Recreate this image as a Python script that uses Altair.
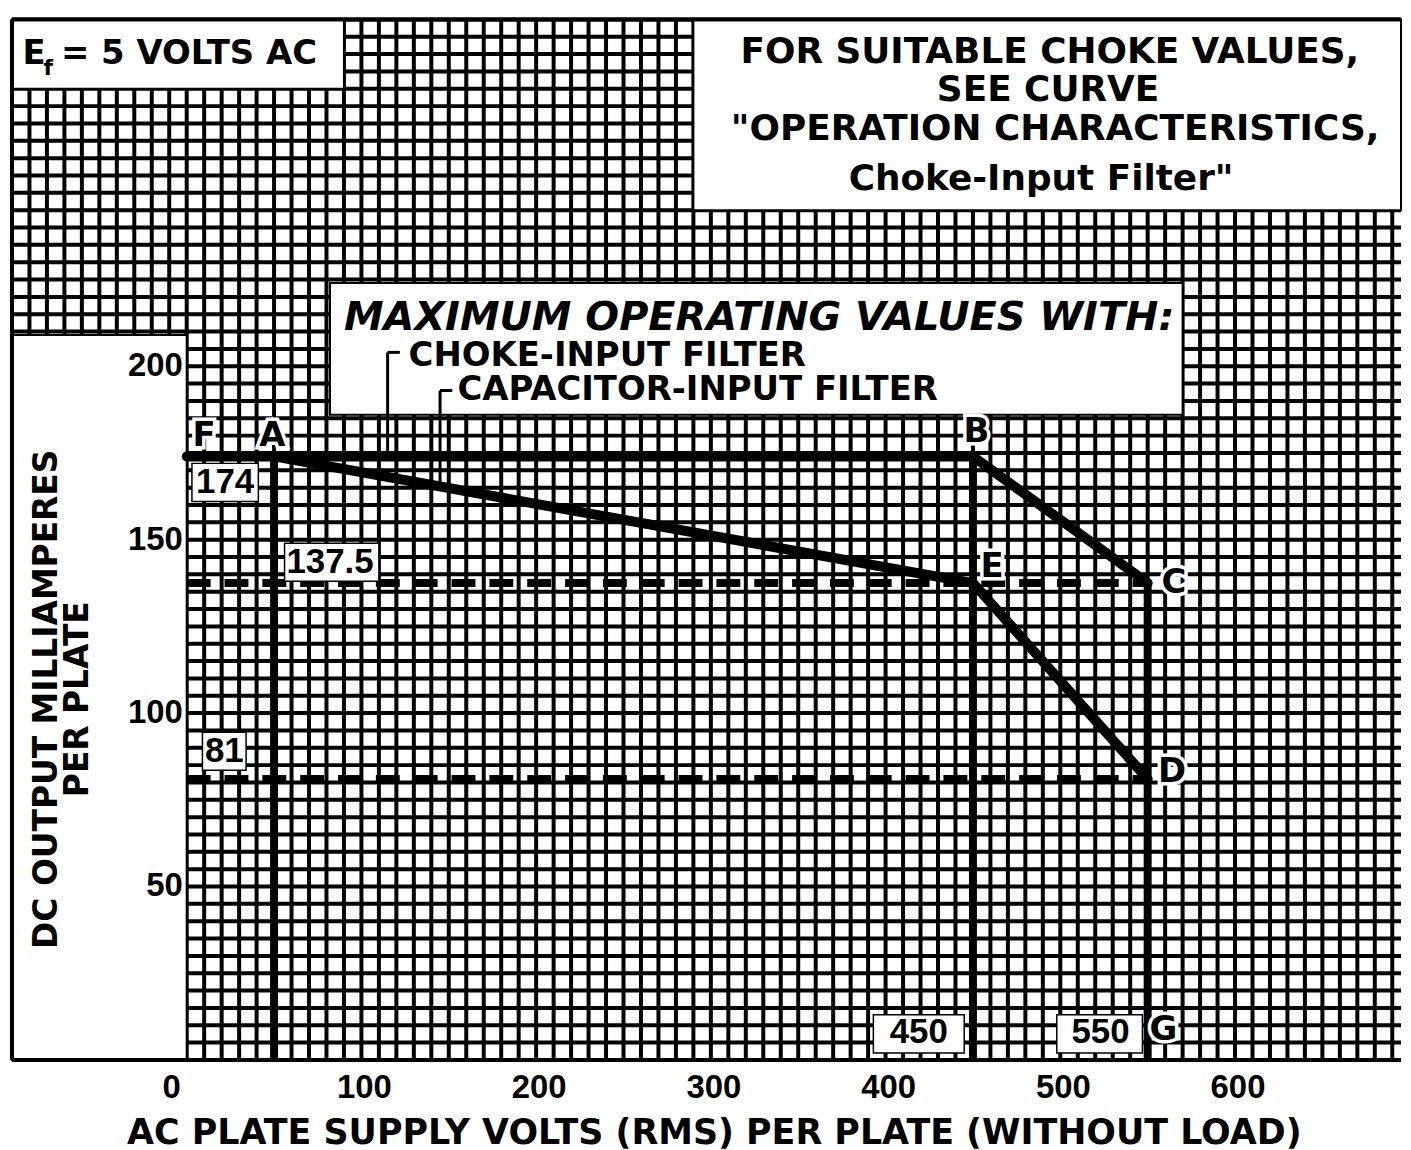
import altair as alt
import pandas as pd

FONT = "DejaVu Sans"
NUM_FONT = "Liberation Sans"

# ---------------- data (AC plate volts RMS, DC output mA per plate) ----------------
X_DOMAIN = [-100, 695]
Y_DOMAIN = [0, 300]

x_grid_values = list(range(-100, 700, 10))
y_grid_values = list(range(0, 305, 5))
x_tick_labels = [0, 100, 200, 300, 400, 500, 600]
y_tick_labels = [50, 100, 150, 200]
X_LABEL_LEVEL = -8.2      # mA level (below the axis) where the volts labels sit
X_TITLE_LEVEL = -21.2
X_TITLE_CENTER = 302

# heavy rating boundaries: F-B (174 mA), B-C (choke input), A-E and E-D (capacitor input)
heavy_x1 = [0, 450, 50, 450]
heavy_y1 = [174, 174, 174, 137.5]
heavy_x2 = [450, 550, 450, 550]
heavy_y2 = [174, 137.5, 137.5, 81]

# vertical drop lines from A, B, C down to the volts axis
drop_x = [50, 450, 550]
drop_top = [174, 174, 137.5]
drop_bottom = [0, 0, 0]

# dashed reference levels
dash_y = [137.5, 81]
dash_x1 = [0, 0]
dash_x2 = [550, 550]

# leader lines for the legend captions
lead_x1 = [115, 115, 145, 145]
lead_y1 = [204, 204, 193, 193]
lead_x2 = [115, 122, 145, 152]
lead_y2 = [174, 204, 165.3, 193]

# white panels (E_f note, choke note, legend, y-title area)
panel_x1 = [-100, 290, 82, -100]
panel_x2 = [90, 695, 570, 0]
panel_y1 = [280, 245, 186, 0]
panel_y2 = [300, 300, 224, 209]

# point letters
letters = ["F", "A", "B", "C", "D", "E", "G"]
letter_x = [10, 49, 452, 565, 564, 461, 559]
letter_y = [180, 180, 181, 137.5, 83, 142, 8.6]

# value call-outs
value_text = ["174", "137.5", "81", "450", "550"]
value_x = [22, 82, 21.5, 419, 523]
value_y = [166.5, 143.5, 89, 8, 8]
value_bx1 = [3, 56, 9, 393, 498]
value_bx2 = [41, 110, 34, 445, 547]
value_by1 = [161, 138, 83.5, 2, 2]
value_by2 = [172, 149, 94.5, 13, 13]

note_lines = ["FOR SUITABLE CHOKE VALUES,", "SEE CURVE",
              '"OPERATION CHARACTERISTICS,', 'Choke-Input Filter"']
note_x = [494, 493, 497, 489]
note_y = [290.5, 279.6, 268.4, 254]

legend_head = ["MAXIMUM OPERATING VALUES WITH:"]
legend_head_x = [90]
legend_head_y = [214]

legend_items = ["CHOKE-INPUT FILTER", "CAPACITOR-INPUT FILTER"]
legend_x = [127, 155]
legend_y = [203, 193]

ef_main = ["E", "= 5 VOLTS AC"]
ef_main_x = [-94, -72]
ef_main_y = [290, 290]
ef_sub = ["f"]
ef_sub_x = [-82]
ef_sub_y = [286]

ytitle_lines = ["DC OUTPUT MILLIAMPERES", "PER PLATE"]
ytitle_x = [-80, -62]
ytitle_y = [104, 104]

X_TITLE = "AC PLATE SUPPLY VOLTS (RMS) PER PLATE (WITHOUT LOAD)"

# ---------------- chart ----------------
xs = alt.Scale(domain=X_DOMAIN, nice=False, zero=False)
ys = alt.Scale(domain=Y_DOMAIN, nice=False, zero=False)


def rect(df, **mark):
    return alt.Chart(df).mark_rect(**mark).encode(
        x=alt.X("x1:Q", scale=xs, axis=None), x2="x2:Q",
        y=alt.Y("y1:Q", scale=ys, axis=None), y2="y2:Q",
    )


def seg(df, **mark):
    return alt.Chart(df).mark_rule(**mark).encode(
        x=alt.X("x1:Q", scale=xs, axis=None), x2="x2:Q",
        y=alt.Y("y1:Q", scale=ys, axis=None), y2="y2:Q",
    )


def txt(texts, xv, yv, **mark):
    df = pd.DataFrame({"t": texts, "x": xv, "y": yv})
    base = dict(font=FONT, fontWeight="bold", color="black", baseline="middle")
    base.update(mark)
    return alt.Chart(df).mark_text(**base).encode(
        x=alt.X("x:Q", scale=xs, axis=None),
        y=alt.Y("y:Q", scale=ys, axis=None),
        text="t:N",
    )


# graph-paper grid
vgrid = pd.DataFrame({"x1": x_grid_values, "x2": x_grid_values,
                      "y1": [Y_DOMAIN[0]] * len(x_grid_values),
                      "y2": [Y_DOMAIN[1]] * len(x_grid_values)})
hgrid = pd.DataFrame({"y1": y_grid_values, "y2": y_grid_values,
                      "x1": [X_DOMAIN[0]] * len(y_grid_values),
                      "x2": [X_DOMAIN[1]] * len(y_grid_values)})
grid_layer = seg(pd.concat([vgrid, hgrid], ignore_index=True), color="black", strokeWidth=4)

panels = pd.DataFrame({"x1": panel_x1, "x2": panel_x2, "y1": panel_y1, "y2": panel_y2})
panel_layer = rect(panels, fill="white", stroke="black", strokeWidth=2)

frame = pd.DataFrame({
    "x1": [X_DOMAIN[0], X_DOMAIN[0], X_DOMAIN[0]],
    "x2": [X_DOMAIN[0], X_DOMAIN[1], X_DOMAIN[1]],
    "y1": [Y_DOMAIN[0], Y_DOMAIN[1], Y_DOMAIN[0]],
    "y2": [Y_DOMAIN[1], Y_DOMAIN[1], Y_DOMAIN[0]],
})
frame_layer = seg(frame, color="black", strokeWidth=4)

heavy = pd.DataFrame({"x1": heavy_x1, "y1": heavy_y1, "x2": heavy_x2, "y2": heavy_y2})
heavy_layer = seg(heavy, color="black", strokeWidth=10, strokeCap="round")

drops = pd.DataFrame({"x1": drop_x, "x2": drop_x, "y1": drop_top, "y2": drop_bottom})
drop_layer = seg(drops, color="black", strokeWidth=8)

dashes = pd.DataFrame({"x1": dash_x1, "x2": dash_x2, "y1": dash_y, "y2": dash_y})
dash_layer = seg(dashes, color="black", strokeWidth=8, strokeDash=[24, 14])

leads = pd.DataFrame({"x1": lead_x1, "y1": lead_y1, "x2": lead_x2, "y2": lead_y2})
lead_layer = seg(leads, color="black", strokeWidth=3)

vboxes = pd.DataFrame({"x1": value_bx1, "x2": value_bx2, "y1": value_by1, "y2": value_by2})
vbox_layer = rect(vboxes, fill="white", stroke="black", strokeWidth=1.5)

layers = [
    grid_layer,
    panel_layer,
    frame_layer,
    dash_layer,
    drop_layer,
    heavy_layer,
    lead_layer,
    vbox_layer,
    txt(value_text, value_x, value_y, font=NUM_FONT, fontSize=35),
    # white halo behind the point letters, then the letters
    txt(letters, letter_x, letter_y, fontSize=34, color="white", stroke="white", strokeWidth=7),
    txt(letters, letter_x, letter_y, fontSize=34),
    txt([str(v) for v in y_tick_labels], [0] * len(y_tick_labels), y_tick_labels,
        font=NUM_FONT, fontSize=33, align="right", dx=-4),
    txt([str(x_tick_labels[0])], [x_tick_labels[0]], [X_LABEL_LEVEL],
        font=NUM_FONT, fontSize=33, align="right", dx=-6),
    txt([str(v) for v in x_tick_labels[1:]], x_tick_labels[1:], [X_LABEL_LEVEL] * (len(x_tick_labels) - 1),
        font=NUM_FONT, fontSize=33, dx=3),
    txt([X_TITLE], [X_TITLE_CENTER], [X_TITLE_LEVEL], fontSize=35),
    txt(note_lines, note_x, note_y, fontSize=36),
    txt(legend_head, legend_head_x, legend_head_y, fontSize=40, fontStyle="italic", align="left"),
    txt(legend_items, legend_x, legend_y, fontSize=34, align="left"),
    txt(ef_main, ef_main_x, ef_main_y, fontSize=34, align="left"),
    txt(ef_sub, ef_sub_x, ef_sub_y, fontSize=22, align="left"),
    txt(ytitle_lines, ytitle_x, ytitle_y, fontSize=33, angle=270),
]

chart = alt.layer(*layers).properties(
    width=1395, height=1045,
    padding={"left": 2, "top": 7, "right": 0, "bottom": 0},
    background="white",
).configure_view(stroke=None)

chart.save("out.html", embed_options={"renderer": "svg", "actions": False})
